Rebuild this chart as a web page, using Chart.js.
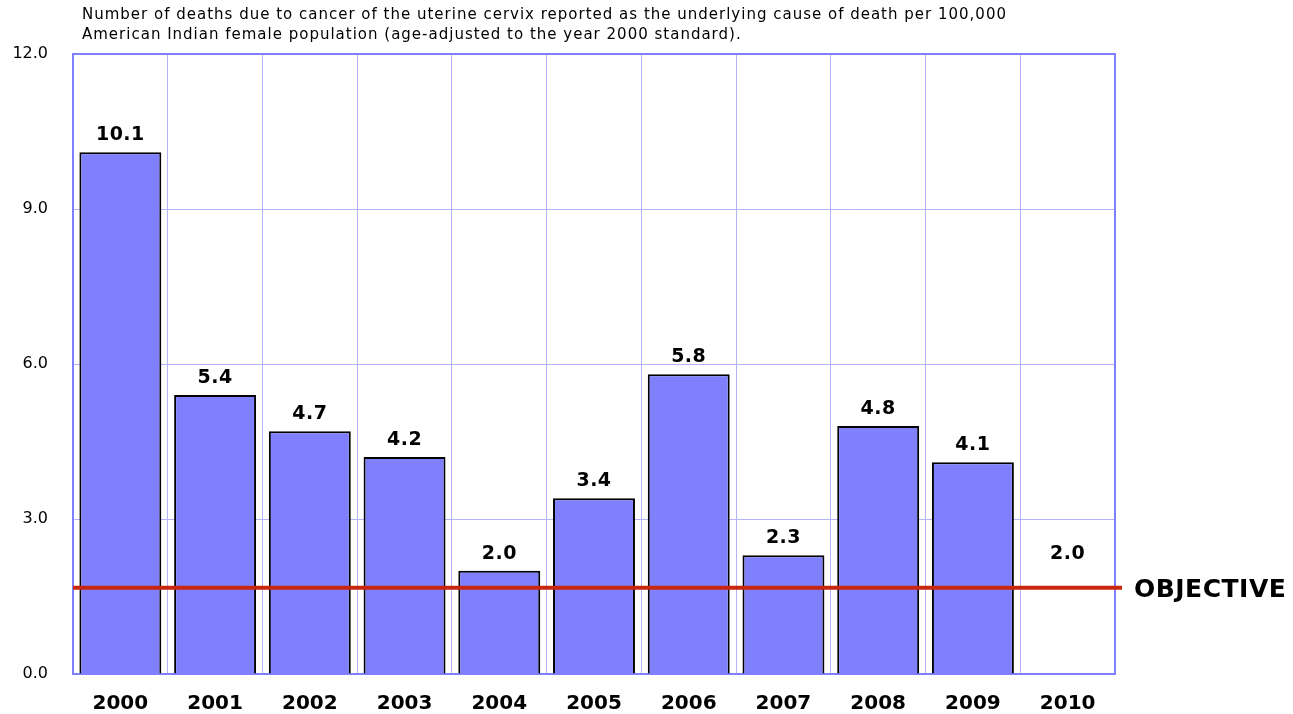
<!DOCTYPE html>
<html>
<head>
<meta charset="utf-8">
<script src="https://cdn.jsdelivr.net/npm/chart.js@4"></script>
<style>
  html, body { margin: 0; padding: 0; background: #fff; }
  #wrap { width: 1293px; height: 714px; }
</style>
</head>
<body>
<div id="wrap"><canvas id="barChart" width="1293" height="714"></canvas></div>
<script>
const years = ['2000', '2001', '2002', '2003', '2004', '2005', '2006', '2007', '2008', '2009', '2010'];
const deathRates = [10.1, 5.4, 4.7, 4.2, 2.0, 3.4, 5.8, 2.3, 4.8, 4.1, 2.0];
const objectiveValue = 1.67;
const titleLines = [
    'Number of deaths due to cancer of the uterine cervix reported as the underlying cause of death per 100,000',
    'American Indian female population (age-adjusted to the year 2000 standard).'
];

const FONT = "'DejaVu Sans', Verdana, sans-serif";

// 2010 has a label but no bar
const barColors = years.map(y => y === '2010' ? 'rgba(0,0,0,0)' : '#8080FF');
const barBorders = years.map(y => y === '2010' ? 0 : 2);

const extras = {
    id: 'extras',
    beforeDatasetsDraw(chart)
    {
        const ctx = chart.ctx;
        const a = chart.chartArea;
        ctx.save();
        ctx.strokeStyle = '#8080FF';
        ctx.lineWidth = 2;
        ctx.strokeRect(a.left, a.top, a.right - a.left, a.bottom - a.top);
        ctx.restore();
    },
    afterDatasetsDraw(chart)
    {
        const ctx = chart.ctx;
        const a = chart.chartArea;
        const y = chart.scales.y;

        // value labels
        ctx.save();
        ctx.font = 'bold 19px ' + FONT;
        ctx.letterSpacing = '0.5px';
        ctx.fillStyle = '#000';
        ctx.textAlign = 'center';
        ctx.textBaseline = 'alphabetic';
        chart.getDatasetMeta(0).data.forEach((bar, i) =>
        {
            ctx.fillText(deathRates[i].toFixed(1), bar.x, bar.y - 12);
        });

        // objective line
        const oy = y.getPixelForValue(objectiveValue);
        ctx.strokeStyle = '#C8260F';
        ctx.lineWidth = 4;
        ctx.beginPath();
        ctx.moveTo(a.left, oy);
        ctx.lineTo(a.right + 7, oy);
        ctx.stroke();
        ctx.font = 'bold 25px ' + FONT;
        ctx.letterSpacing = '0.5px';
        ctx.textAlign = 'left';
        ctx.textBaseline = 'middle';
        ctx.fillText('OBJECTIVE', 1134, oy + 3);

        // title
        ctx.font = '15px ' + FONT;
        ctx.letterSpacing = '1px';
        ctx.textBaseline = 'middle';
        ctx.fillText(titleLines[0], 82, 15);
        ctx.fillText(titleLines[1], 82, 35);
        ctx.restore();
    }
};

const ctx = document.getElementById('barChart').getContext('2d');

new Chart(ctx, {
    type: 'bar',
    data: {
        labels: years,
        datasets: [
            {
                data: deathRates,
                backgroundColor: barColors,
                borderColor: '#000',
                borderWidth: barBorders,
                barPercentage: 0.865,
                categoryPercentage: 1.0
            }
        ]
    },
    options: {
        responsive: false,
        animation: false,
        events: [],
        layout: {
            padding: { left: 0, top: 54, right: 178, bottom: 0 }
        },
        plugins: {
            legend: { display: false },
            tooltip: { enabled: false }
        },
        scales: {
            x: {
                afterFit: s => { s.height = 40; },
                grid: {
                    color: '#B3B3FF',
                    lineWidth: 1,
                    drawTicks: false,
                    offset: true
                },
                border: { display: false },
                ticks: {
                    color: '#000',
                    padding: 18,
                    font: { family: FONT, size: 20, weight: 'bold' }
                }
            },
            y: {
                min: 0,
                max: 12,
                afterFit: s => { s.width = 73; },
                grid: {
                    color: '#B3B3FF',
                    lineWidth: 1,
                    drawTicks: false
                },
                border: { display: false },
                ticks: {
                    stepSize: 3,
                    color: '#000',
                    padding: 25,
                    font: { family: FONT, size: 16 },
                    callback: v => v.toFixed(1)
                }
            }
        }
    },
    plugins: [extras]
});
</script>
</body>
</html>
